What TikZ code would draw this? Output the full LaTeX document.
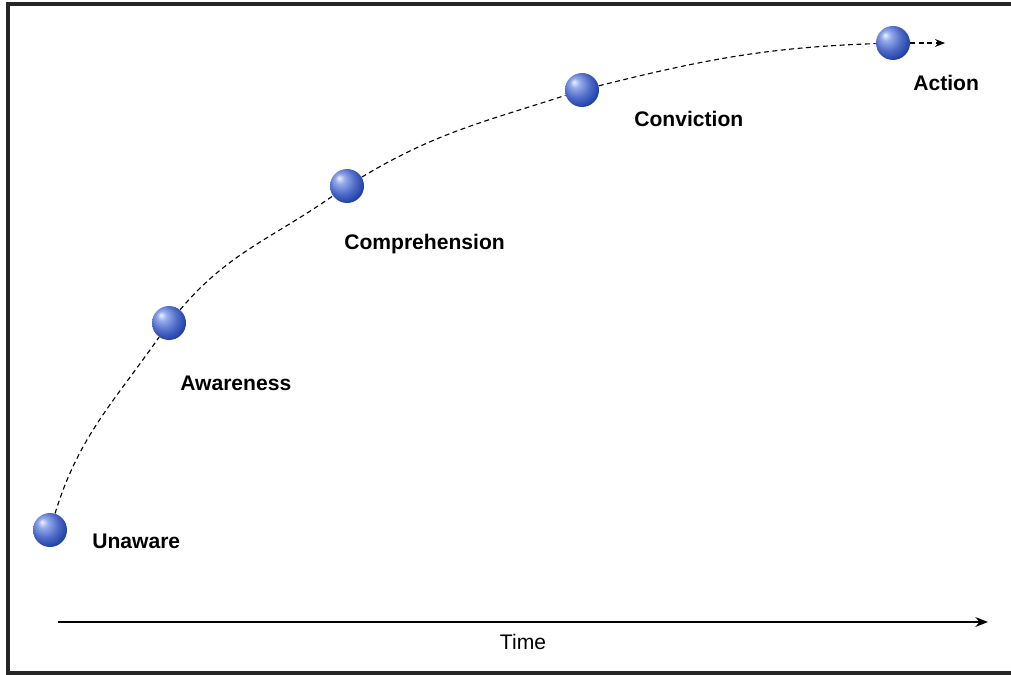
\documentclass[tikz,border=0pt]{standalone}
\usepackage{fontspec}
\setmainfont{Liberation Sans}
\usetikzlibrary{arrows.meta,positioning}

\definecolor{ballhi}{RGB}{238,242,255}
\definecolor{balllight}{RGB}{150,172,235}
\definecolor{ballmid}{RGB}{80,108,200}
\definecolor{balldark}{RGB}{32,64,165}
\definecolor{balledge}{RGB}{16,46,132}
\pgfdeclareradialshading{blueball}{\pgfpoint{-12bp}{12bp}}{%
  color(0bp)=(ballhi); color(7bp)=(balllight); color(19bp)=(ballmid);
  color(30bp)=(balldark); color(50bp)=(balledge)}

\begin{document}
\begin{tikzpicture}[
    x=0.025cm, y=-0.025cm,
    ball/.style={circle, minimum size=34*0.025cm, inner sep=0pt, shading=blueball},
    stage/.style={anchor=base west, inner sep=0pt, font=\fontsize{15}{18}\selectfont\bfseries},
    frame/.style={line width=2.2pt, draw=black!85},
    curve/.style={line width=0.8pt, dash pattern=on 3.5pt off 2.5pt},
    axis/.style={line width=0.8pt, -{Stealth[length=9pt,width=7pt]}}
  ]
    \useasboundingbox (0,0) rectangle (1011,675);
    \draw[frame] (1011,4) -- (8,4) -- (8,673) -- (1011,673);

    % stages along the curve
    \node[ball] (unaware) at (50,530) {};
    \node[ball] (aware) at (169,323) {};
    \node[ball] (compr) at (347,186) {};
    \node[ball] (convic) at (582,90) {};
    \node[ball] (act) at (893,43) {};
    \coordinate (tip) at (945,43);

    \draw[curve] (unaware) to[out=73, in=235] (aware)
      (aware) to[out=50, in=215] (compr)
      (compr) to[out=31, in=198] (convic)
      (convic) to[out=14, in=182] (act);
    \draw[curve, -{Stealth[length=7pt,width=5.5pt]}] (act) -- (tip);

    \node[stage] (unawarelab) at (92,548) {Unaware};
    \node[stage] (awarelab) at (180,390) {Awareness};
    \node[stage] (comprlab) at (344,250) {Comprehension};
    \node[stage] (conviclab) at (634,127) {Conviction};
    \node[stage] (actlab) at (913,91) {Action};

    % time axis
    \coordinate (t0) at (58,622);
    \coordinate (t1) at (988,622);
    \draw[axis] (t0) -- (t1);
    \node[anchor=base, inner sep=0pt, font=\fontsize{15}{18}\selectfont] (time) at (523,649) {Time};
  \end{tikzpicture}
\end{document}
